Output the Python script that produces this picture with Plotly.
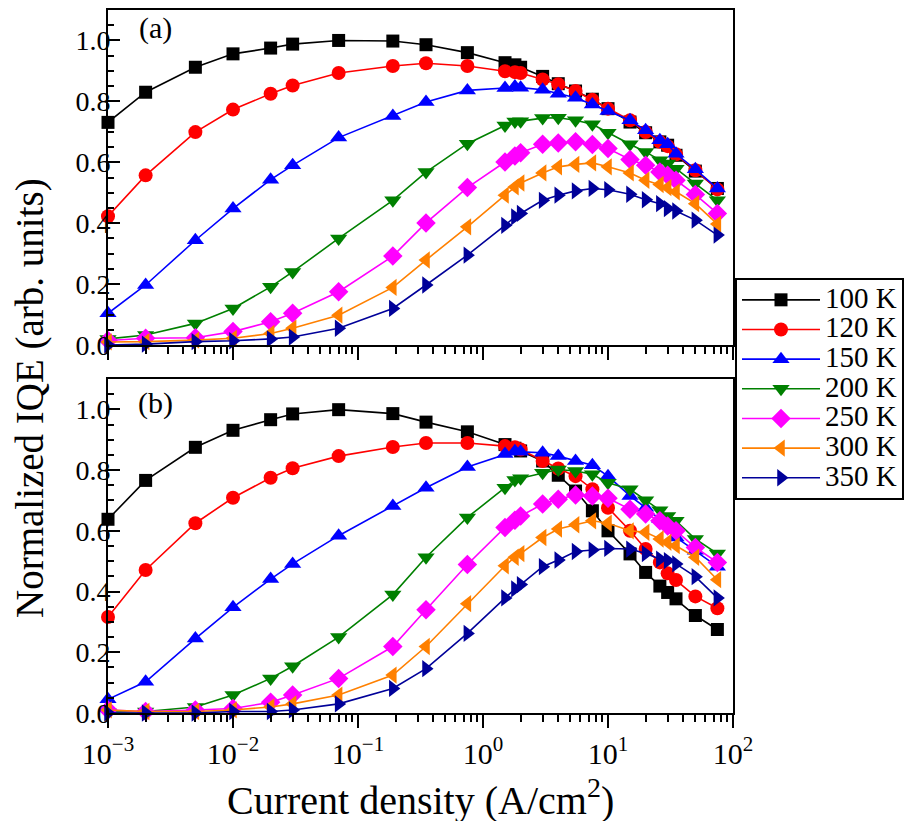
import plotly.graph_objects as go

# ---------------- data ----------------
current_density = [0.001, 0.002, 0.005, 0.01, 0.02, 0.03, 0.07, 0.19, 0.35, 0.75,
                   1.5, 1.8, 2.0, 3.0, 4.0, 5.5, 7.5, 10, 15, 20, 26, 30, 35, 50, 75]

temperatures = ["100 K", "120 K", "150 K", "200 K", "250 K", "300 K", "350 K"]

# panel (a)
a_100 = [0.731, 0.830, 0.912, 0.956, 0.975, 0.988, 1.000, 0.998, 0.986, 0.960, 0.927, 0.920, 0.912,
         0.882, 0.858, 0.834, 0.807, 0.776, 0.732, 0.697, 0.667, 0.656, 0.623, 0.571, 0.514]
a_120 = [0.423, 0.557, 0.699, 0.773, 0.825, 0.852, 0.893, 0.916, 0.925, 0.916, 0.899, 0.896, 0.893,
         0.872, 0.856, 0.834, 0.805, 0.776, 0.738, 0.699, 0.667, 0.653, 0.626, 0.574, 0.511]
a_150 = [0.104, 0.197, 0.344, 0.448, 0.543, 0.590, 0.681, 0.752, 0.798, 0.836, 0.844, 0.849, 0.845,
         0.838, 0.825, 0.812, 0.790, 0.768, 0.738, 0.705, 0.672, 0.659, 0.628, 0.577, 0.514]
a_200 = [0.020, 0.033, 0.071, 0.120, 0.191, 0.240, 0.350, 0.475, 0.568, 0.661, 0.721, 0.734, 0.735,
         0.745, 0.746, 0.738, 0.725, 0.697, 0.659, 0.634, 0.607, 0.596, 0.579, 0.530, 0.475]
a_250 = [0.015, 0.022, 0.024, 0.044, 0.076, 0.104, 0.175, 0.292, 0.401, 0.517, 0.601, 0.621, 0.631,
         0.659, 0.663, 0.667, 0.658, 0.645, 0.609, 0.590, 0.568, 0.557, 0.541, 0.494, 0.432]
a_300 = [0.010, 0.011, 0.016, 0.022, 0.038, 0.055, 0.098, 0.189, 0.279, 0.388, 0.492, 0.519, 0.532,
         0.565, 0.585, 0.593, 0.598, 0.585, 0.565, 0.541, 0.527, 0.517, 0.503, 0.464, 0.397]
a_350 = [0.000, 0.003, 0.011, 0.014, 0.020, 0.026, 0.055, 0.120, 0.197, 0.295, 0.393, 0.421, 0.432,
         0.475, 0.492, 0.506, 0.514, 0.510, 0.495, 0.477, 0.464, 0.448, 0.440, 0.410, 0.361]

# panel (b)
b_100 = [0.638, 0.766, 0.875, 0.931, 0.966, 0.985, 0.999, 0.986, 0.958, 0.926, 0.884, 0.872, 0.863,
         0.830, 0.783, 0.731, 0.666, 0.600, 0.524, 0.463, 0.418, 0.397, 0.376, 0.321, 0.275]
b_120 = [0.316, 0.471, 0.625, 0.709, 0.775, 0.806, 0.846, 0.876, 0.889, 0.889, 0.879, 0.875, 0.868,
         0.830, 0.805, 0.780, 0.737, 0.676, 0.600, 0.540, 0.496, 0.460, 0.438, 0.384, 0.345]
b_150 = [0.045, 0.103, 0.245, 0.348, 0.441, 0.491, 0.584, 0.682, 0.742, 0.810, 0.853, 0.862, 0.860,
         0.857, 0.846, 0.830, 0.816, 0.780, 0.715, 0.676, 0.638, 0.622, 0.578, 0.534, 0.482]
b_200 = [0.003, 0.005, 0.020, 0.059, 0.114, 0.154, 0.250, 0.390, 0.513, 0.644, 0.742, 0.767, 0.773,
         0.791, 0.802, 0.797, 0.786, 0.758, 0.737, 0.701, 0.668, 0.649, 0.633, 0.573, 0.525]
b_250 = [0.010, 0.005, 0.010, 0.015, 0.035, 0.059, 0.114, 0.219, 0.340, 0.489, 0.611, 0.635, 0.649,
         0.688, 0.704, 0.718, 0.715, 0.707, 0.671, 0.655, 0.633, 0.616, 0.600, 0.545, 0.496]
b_300 = [0.010, 0.005, 0.005, 0.010, 0.020, 0.030, 0.059, 0.125, 0.219, 0.360, 0.485, 0.513, 0.525,
         0.578, 0.606, 0.620, 0.633, 0.625, 0.600, 0.595, 0.573, 0.562, 0.551, 0.513, 0.439]
b_350 = [0.000, 0.000, 0.000, 0.005, 0.005, 0.010, 0.030, 0.081, 0.146, 0.262, 0.379, 0.409, 0.423,
         0.482, 0.504, 0.532, 0.537, 0.542, 0.540, 0.525, 0.507, 0.502, 0.491, 0.449, 0.379]

panel_a = [a_100, a_120, a_150, a_200, a_250, a_300, a_350]
panel_b = [b_100, b_120, b_150, b_200, b_250, b_300, b_350]

x_major_ticks = [1e-3, 1e-2, 1e-1, 1e0, 1e1, 1e2]
x_major_text = ["10<sup>\u22123</sup>", "10<sup>\u22122</sup>", "10<sup>\u22121</sup>",
                "10<sup>0</sup>", "10<sup>1</sup>", "10<sup>2</sup>"]
x_minor_ticks = [m * d for d in x_major_ticks[:-1] for m in range(2, 10)]

# ---------------- style ----------------
colors = ["#000000", "#ff0000", "#0000ff", "#008000", "#ff00ff", "#ff8000", "#000099"]
symbols = ["square", "circle", "triangle-up", "triangle-down", "diamond", "triangle-left", "triangle-right"]
sizes = [13, 14, 15, 15, 15, 15, 15]
FONT = "Liberation Serif"

# the page body has an 8px margin: figure coordinates = screen - 8
W, HT = 921, 821
OFF = 8
L, R = 108 - OFF, W - (733 - OFF)
T, B = 10 - OFF, HT - (713 - OFF)
PW = W - L - R
PH = HT - T - B

def px_x(sx):
    return (sx - OFF - L) / PW

def px_y(sy):
    return (HT - B - (sy - OFF)) / PH

fig = go.Figure()
for i, name in enumerate(temperatures):
    for panel, (xa, ya, show) in zip([panel_a, panel_b], [("x", "y", True), ("x2", "y2", False)]):
        fig.add_trace(go.Scatter(
            x=current_density, y=panel[i], xaxis=xa, yaxis=ya,
            mode="lines+markers",
            name='<span style="font-size:29px">' + name + "</span>",
            legendgroup=name, showlegend=show,
            line=dict(color=colors[i], width=1.6),
            marker=dict(symbol=symbols[i], size=sizes[i], color=colors[i]),
            cliponaxis=False,
        ))

top_dom = [px_y(345), 1.0]
bot_dom = [0.0, px_y(379)]

def xaxis_cfg(show_labels, anchor):
    return dict(
        type="log", range=[-3, 2], anchor=anchor,
        tickmode="array", tickvals=x_major_ticks, ticktext=x_major_text,
        showticklabels=show_labels,
        ticks="outside", ticklen=13, tickwidth=1.5, tickcolor="black",
        minor=dict(tickmode="array", tickvals=x_minor_ticks, ticks="outside",
                   ticklen=7, tickwidth=1.5, tickcolor="black", showgrid=False),
        showline=True, linewidth=2, linecolor="black", mirror=True,
        showgrid=False, zeroline=False,
        tickfont=dict(family=FONT, size=30, color="black"),
    )

def yaxis_cfg(domain, anchor):
    return dict(
        domain=domain, anchor=anchor, range=[0, 1.1],
        tickmode="linear", tick0=0, dtick=0.2, tickformat=".1f",
        ticks="inside", ticklen=12, tickwidth=1.5, tickcolor="black",
        minor=dict(tick0=0, dtick=0.05, ticks="inside", ticklen=6, tickwidth=1.5,
                   tickcolor="black", showgrid=False),
        showline=True, linewidth=2, linecolor="black", mirror=True,
        showgrid=False, zeroline=False,
        ticklabelstandoff=-10,
        tickfont=dict(family=FONT, size=28, color="black"),
    )

fig.update_layout(
    width=W, height=HT,
    margin=dict(l=L, r=R, t=T, b=B, autoexpand=False),
    paper_bgcolor="white", plot_bgcolor="white",
    font=dict(family=FONT, color="black"),
    xaxis=xaxis_cfg(False, "y"),
    yaxis=yaxis_cfg(top_dom, "x"),
    xaxis2=xaxis_cfg(True, "y2"),
    yaxis2=yaxis_cfg(bot_dom, "x2"),
    legend=dict(
        x=px_x(735), y=px_y(389), xanchor="left", yanchor="middle",
        bordercolor="black", borderwidth=2, bgcolor="white",
        font=dict(family=FONT, size=20.5, color="black"),
        tracegroupgap=0, itemwidth=78,
    ),
    showlegend=True,
    annotations=[
        dict(text="(a)", x=px_x(155), y=px_y(28), xref="paper", yref="paper",
             xanchor="center", yanchor="middle", showarrow=False,
             font=dict(family=FONT, size=30)),
        dict(text="(b)", x=px_x(155), y=px_y(403), xref="paper", yref="paper",
             xanchor="center", yanchor="middle", showarrow=False,
             font=dict(family=FONT, size=30)),
        dict(text="Normalized IQE (arb. units)", textangle=-90,
             x=px_x(30), y=px_y(398), xref="paper", yref="paper",
             xanchor="center", yanchor="middle", showarrow=False,
             font=dict(family=FONT, size=39)),
        dict(text="Current density (A/cm<sup>2</sup>)",
             x=px_x(420), y=px_y(797), xref="paper", yref="paper",
             xanchor="center", yanchor="middle", showarrow=False,
             font=dict(family=FONT, size=40)),
    ],
)

fig.write_html("out.html")
